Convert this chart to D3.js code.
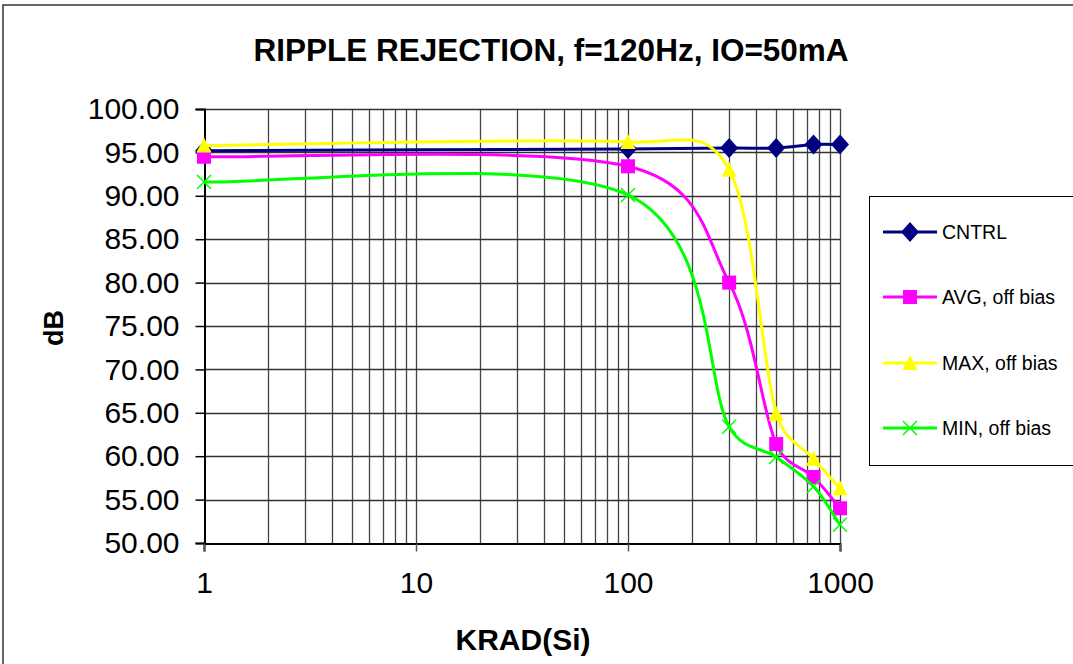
<!DOCTYPE html>
<html><head><meta charset="utf-8">
<script src="https://cdn.jsdelivr.net/npm/d3@7"></script>
<style>
html,body{margin:0;padding:0;background:#fff;}
svg{display:block;font-family:"Liberation Sans",Arial,sans-serif;}
</style></head>
<body>
<svg id="chart" width="1073" height="664"></svg>
<script>
// ---- data ----
const krad = [1, 100, 300, 500, 750, 1000];
const cntrl = [95.2, 95.4, 95.5, 95.5, 95.9, 95.9];
const avgOff = [94.5, 93.4, 80.0, 61.4, 57.6, 54.0];
const maxOff = [95.8, 96.2, 93.0, 64.9, 59.7, 56.3];
const minOff = [91.6, 90.1, 63.4, 59.9, 56.5, 52.1];
const seriesNames = ["CNTRL", "AVG, off bias", "MAX, off bias", "MIN, off bias"];
const seriesColors = ["#000080", "#FF00FF", "#FFFF00", "#00FF00"];
const seriesMarkers = ["diamond", "square", "triangle", "x"];
const yTicks = [50, 55, 60, 65, 70, 75, 80, 85, 90, 95, 100];
const xTicks = [1, 10, 100, 1000];
const titleText = "RIPPLE REJECTION, f=120Hz, IO=50mA";
const xTitle = "KRAD(Si)";
const yTitle = "dB";

const series = [cntrl, avgOff, maxOff, minOff].map((vals, i) => ({
  name: seriesNames[i], color: seriesColors[i], marker: seriesMarkers[i],
  pts: krad.map((k, j) => ({x: k, y: vals[j]}))
}));

const svg = d3.select("#chart");
const L = 204, R = 840, T = 109, B = 543;
const x = d3.scaleLog().domain([1, 1000]).range([L, R]);
const y = d3.scaleLinear().domain([50, 100]).range([B, T]);

// spreadsheet-style smoothed curve (Bezier, tangent 1/6, handle capped at half segment)
function SmoothCurve(context) { this._context = context; }
SmoothCurve.prototype = {
  areaStart() {}, areaEnd() {},
  lineStart() { this._pts = []; },
  point(px, py) { this._pts.push([+px, +py]); },
  lineEnd() {
    const p = this._pts, c = this._context, n = p.length;
    if (!n) return;
    c.moveTo(p[0][0], p[0][1]);
    for (let i = 0; i < n - 1; i++) {
      const p0 = p[Math.max(i - 1, 0)], p1 = p[i], p2 = p[i + 1], p3 = p[Math.min(i + 2, n - 1)];
      const d12 = Math.hypot(p2[0] - p1[0], p2[1] - p1[1]);
      const d02 = Math.hypot(p2[0] - p0[0], p2[1] - p0[1]);
      const d13 = Math.hypot(p3[0] - p1[0], p3[1] - p1[1]);
      let f0 = 1 / 6, f1 = 1 / 6;
      if (d02 / 6 > d12 / 2) f0 = d12 / 2 / d02;
      if (d13 / 6 > d12 / 2) f1 = d12 / 2 / d13;
      c.bezierCurveTo(
        p1[0] + (p2[0] - p0[0]) * f0, p1[1] + (p2[1] - p0[1]) * f0,
        p2[0] - (p3[0] - p1[0]) * f1, p2[1] - (p3[1] - p1[1]) * f1,
        p2[0], p2[1]);
    }
  }
};
const curveSmooth = ctx => new SmoothCurve(ctx);

// outer border
svg.append("rect").attr("x", 3).attr("y", 5).attr("width", 1100).attr("height", 700)
  .attr("fill", "none").attr("stroke", "#333").attr("stroke-width", 1.5);

// title
svg.append("text").attr("x", 551).attr("y", 61).attr("text-anchor", "middle")
  .attr("font-size", 31.5).attr("font-weight", "bold").text(titleText);

// grid
const g = svg.append("g");
const minorVals = [];
for (let d = 1; d < 1000; d *= 10) for (let m = 1; m <= 10; m++) minorVals.push(d * m);
g.selectAll("line.vg").data(Array.from(new Set(minorVals)).filter(v => v > 1)).enter()
  .append("line").attr("class", "vg")
  .attr("x1", d => Math.round(x(d)) + 0.5).attr("x2", d => Math.round(x(d)) + 0.5)
  .attr("y1", T).attr("y2", B).attr("stroke", "#444").attr("stroke-width", 1.3);
g.selectAll("line.hg").data(yTicks.filter(v => v > 50)).enter()
  .append("line").attr("class", "hg")
  .attr("x1", L).attr("x2", R)
  .attr("y1", d => Math.round(y(d)) + 0.5).attr("y2", d => Math.round(y(d)) + 0.5)
  .attr("stroke", "#333").attr("stroke-width", 1.3);

// axes
const yAxis = d3.axisLeft(y).tickValues(yTicks).tickFormat(d3.format(".2f")).tickSize(9).tickPadding(16);
const yg = svg.append("g").attr("transform", `translate(${L + 0.5},0)`).call(yAxis);
yg.select(".domain").attr("stroke", "#000").attr("stroke-width", 2);
yg.selectAll(".tick line").attr("stroke", "#000").attr("stroke-width", 1.5);
yg.selectAll(".tick text").attr("font-size", 30).attr("font-family", "Liberation Sans, Arial, sans-serif").attr("fill", "#000");

const xAxis = d3.axisBottom(x).tickValues(xTicks).tickFormat(d3.format("d")).tickSize(8).tickPadding(20);
const xg = svg.append("g").attr("transform", `translate(0,${B + 0.5})`).call(xAxis);
xg.select(".domain").attr("stroke", "#000").attr("stroke-width", 2);
xg.selectAll(".tick line").attr("stroke", "#555").attr("stroke-width", 1.5);
xg.selectAll(".tick text").attr("font-size", 30).attr("font-family", "Liberation Sans, Arial, sans-serif").attr("fill", "#000");

// axis titles
svg.append("text").attr("x", 523).attr("y", 650).attr("text-anchor", "middle")
  .attr("font-size", 30).attr("font-weight", "bold").text(xTitle);
svg.append("text").attr("transform", "translate(63,328) rotate(-90)").attr("text-anchor", "middle")
  .attr("font-size", 27).attr("font-weight", "bold").text(yTitle);

// marker drawing
function drawMarker(sel, type, color) {
  if (type === "diamond") {
    sel.append("path").attr("d", "M0,-10 L9,0 L0,10 L-9,0 Z").attr("fill", color);
  } else if (type === "square") {
    sel.append("rect").attr("x", -7).attr("y", -7).attr("width", 14).attr("height", 14).attr("fill", color);
  } else if (type === "triangle") {
    sel.append("path").attr("d", "M0,-8 L7.5,7 L-7.5,7 Z").attr("fill", color);
  } else if (type === "x") {
    sel.append("path").attr("d", "M-7,-7 L7,7 M7,-7 L-7,7").attr("stroke", color).attr("stroke-width", 1.5).attr("fill", "none");
  }
}

const line = d3.line().x(d => x(d.x)).y(d => y(d.y)).curve(curveSmooth);
const plot = svg.append("g");
series.forEach(s => {
  plot.append("path").attr("d", line(s.pts)).attr("fill", "none")
    .attr("stroke", s.color).attr("stroke-width", 3);
  s.pts.forEach(p => {
    const m = plot.append("g").attr("transform", `translate(${x(p.x)},${y(p.y)})`);
    drawMarker(m, s.marker, s.color);
  });
});

// legend
const lg = svg.append("g");
lg.append("rect").attr("x", 869.5).attr("y", 196.5).attr("width", 260).attr("height", 269)
  .attr("fill", "#fff").attr("stroke", "#000").attr("stroke-width", 1);
const legY = [232, 297, 363, 428];
series.forEach((s, i) => {
  const row = lg.append("g").attr("transform", `translate(0,${legY[i]})`);
  row.append("line").attr("x1", 883).attr("x2", 937).attr("y1", 0).attr("y2", 0)
    .attr("stroke", s.color).attr("stroke-width", 3);
  const m = row.append("g").attr("transform", "translate(910,0)");
  drawMarker(m, s.marker, s.color);
  row.append("text").attr("x", 942).attr("y", 0).attr("dy", "0.35em")
    .attr("font-size", 19.5).text(s.name);
});
</script>
</body></html>
